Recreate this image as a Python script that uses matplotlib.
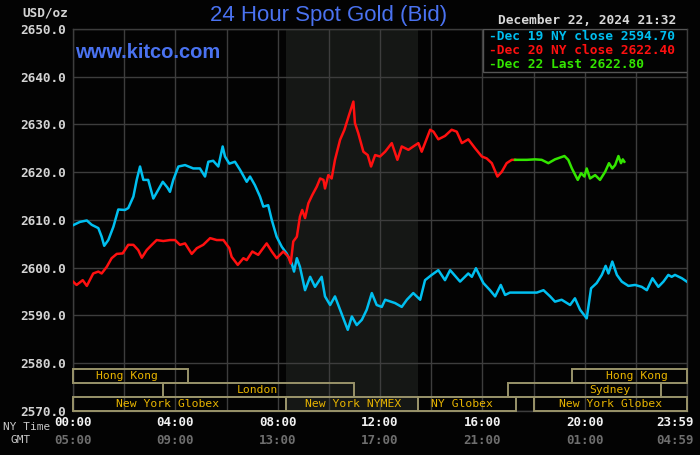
import matplotlib
matplotlib.use("Agg")
import matplotlib.pyplot as plt
from matplotlib.patches import Rectangle

# ---------------- data ----------------
dec19_hours = [0.0, 0.27, 0.54, 0.73, 0.99, 1.12, 1.22, 1.38, 1.58, 1.77, 2.03, 2.16, 2.36, 2.49, 2.62,
               2.75, 2.94, 3.14, 3.33, 3.51, 3.69, 3.79, 3.92, 4.12, 4.38, 4.70, 4.96, 5.16, 5.29, 5.48,
               5.68, 5.85, 5.94, 6.11, 6.33, 6.53, 6.79, 6.92, 7.11, 7.31, 7.44, 7.63, 7.77, 7.96, 8.16,
               8.35, 8.55, 8.64, 8.75, 8.87, 9.07, 9.27, 9.46, 9.72, 9.85, 10.05, 10.24, 10.44, 10.74,
               10.90, 11.09, 11.29, 11.48, 11.68, 11.87, 12.07, 12.20, 12.59, 12.85, 13.05, 13.30, 13.57,
               13.76, 14.02, 14.28, 14.54, 14.74, 15.13, 15.45, 15.59, 15.75, 16.04, 16.30, 16.50, 16.72,
               16.89, 17.08, 17.60, 18.13, 18.39, 18.65, 18.84, 19.10, 19.43, 19.62, 19.82, 20.08, 20.25,
               20.47, 20.67, 20.82, 20.93, 21.08, 21.26, 21.45, 21.71, 21.97, 22.23, 22.43, 22.65, 22.88,
               23.08, 23.27, 23.40, 23.53, 23.80, 23.99]
dec19_price = [2608.9, 2609.6, 2609.9, 2609.0, 2608.3, 2606.5, 2604.6, 2605.8, 2608.6, 2612.2, 2612.1,
               2612.5, 2614.9, 2618.4, 2621.2, 2618.4, 2618.4, 2614.5, 2616.3, 2618.0, 2616.8, 2615.9,
               2618.4, 2621.2, 2621.5, 2620.8, 2620.8, 2619.1, 2622.2, 2622.4, 2621.2, 2625.4, 2623.3,
               2621.8, 2622.2, 2620.5, 2618.0, 2619.1, 2617.3, 2614.9, 2612.8, 2613.1, 2610.0, 2606.5,
               2604.4, 2603.0, 2600.9, 2599.2, 2602.0, 2600.2, 2595.3, 2598.1, 2596.0, 2598.1, 2594.0,
               2592.2, 2594.0, 2591.2, 2587.0, 2589.8, 2588.0, 2589.1, 2591.2, 2594.7, 2592.2, 2591.8,
               2593.3, 2592.6, 2591.8, 2593.3, 2594.7, 2593.3, 2597.4, 2598.5, 2599.5, 2597.4, 2599.5,
               2597.1, 2598.8, 2598.1, 2599.9, 2596.8, 2595.3, 2594.0, 2596.4, 2594.3, 2594.8, 2594.8,
               2594.8, 2595.3, 2594.0, 2592.9, 2593.3, 2592.2, 2593.6, 2591.2, 2589.4, 2595.7, 2596.8,
               2598.5, 2600.4, 2598.8, 2601.3, 2598.5, 2597.1, 2596.2, 2596.4, 2596.0, 2595.3, 2597.8,
               2596.0, 2597.1, 2598.5, 2598.1, 2598.5, 2597.8, 2597.1]

dec20_hours = [0.0, 0.14, 0.38, 0.54, 0.79, 0.99, 1.12, 1.32, 1.51, 1.71, 1.94, 2.16, 2.36, 2.55, 2.69,
               2.88, 3.08, 3.27, 3.53, 3.79, 3.99, 4.18, 4.38, 4.64, 4.84, 5.09, 5.36, 5.62, 5.88, 6.11,
               6.20, 6.44, 6.66, 6.79, 7.01, 7.24, 7.57, 7.77, 7.96, 8.22, 8.42, 8.51, 8.61, 8.75, 8.87,
               8.96, 9.07, 9.20, 9.35, 9.53, 9.66, 9.79, 9.85, 9.98, 10.11, 10.24, 10.44, 10.61, 10.79,
               10.96, 11.02, 11.15, 11.35, 11.52, 11.65, 11.81, 12.00, 12.20, 12.46, 12.68, 12.85, 13.11,
               13.30, 13.50, 13.63, 13.96, 14.09, 14.28, 14.54, 14.80, 15.00, 15.20, 15.45, 15.72, 15.98,
               16.17, 16.37, 16.59, 16.76, 16.95, 17.15, 17.28]
dec20_price = [2597.1, 2596.4, 2597.4, 2596.2, 2598.8, 2599.2, 2598.8, 2600.2, 2602.0, 2602.9, 2603.0,
               2604.8, 2604.8, 2603.7, 2602.1, 2603.7, 2604.8, 2605.8, 2605.6, 2605.8, 2605.8, 2604.8,
               2605.1, 2602.9, 2604.1, 2604.8, 2606.2, 2605.8, 2605.8, 2604.1, 2602.3, 2600.6, 2602.0,
               2601.6, 2603.4, 2602.7, 2605.1, 2603.4, 2602.0, 2603.4, 2602.3, 2600.9, 2605.5, 2606.5,
               2610.7, 2612.1, 2610.4, 2613.5, 2615.2, 2617.0, 2618.7, 2618.4, 2616.6, 2619.4, 2618.7,
               2622.6, 2626.8, 2628.9, 2632.0, 2634.8, 2630.3, 2628.2, 2624.3, 2623.6, 2621.2, 2623.6,
               2623.3, 2624.3, 2626.1, 2622.6, 2625.4, 2624.7, 2625.4, 2626.1, 2624.3, 2628.9, 2628.5,
               2626.9, 2627.6, 2628.9, 2628.5, 2626.1, 2626.9, 2625.0, 2623.3, 2622.9, 2621.9, 2619.1,
               2620.1, 2621.9, 2622.6, 2622.6]

dec22_hours = [17.28, 17.74, 18.06, 18.32, 18.58, 18.84, 19.21, 19.36, 19.50, 19.73, 19.86, 19.99, 20.08,
               20.21, 20.41, 20.60, 20.80, 20.95, 21.08, 21.19, 21.32, 21.42, 21.49, 21.55]
dec22_price = [2622.6, 2622.6, 2622.7, 2622.6, 2621.9, 2622.7, 2623.4, 2622.6, 2620.8, 2618.4, 2619.8,
               2619.1, 2620.8, 2618.7, 2619.4, 2618.4, 2620.1, 2621.9, 2620.8, 2621.5, 2623.4, 2621.9,
               2622.7, 2622.2]

legend_labels = ["Dec 19 NY close 2594.70", "Dec 20 NY close 2622.40", "Dec 22 Last 2622.80"]

y_ticks = [2570, 2580, 2590, 2600, 2610, 2620, 2630, 2640, 2650]
ny_time_labels = ["00:00", "04:00", "08:00", "12:00", "16:00", "20:00", "23:59"]
gmt_labels = ["05:00", "09:00", "13:00", "17:00", "21:00", "01:00", "04:59"]
time_label_hours = [0, 4, 8, 12, 16, 20, 24]

# sessions: (label, start hour, end hour, row, label centre hour)
sessions = [
    ("Hong Kong", 0.0, 4.5, 2, 2.1),
    ("Hong Kong", 19.5, 24.0, 2, 22.05),
    ("London", 3.5, 11.0, 1, 7.2),
    ("Sydney", 17.0, 23.0, 1, 21.0),
    ("New York Globex", 0.0, 8.33, 0, 3.7),
    ("New York NYMEX", 8.33, 13.5, 0, 10.93),
    ("NY Globex", 13.5, 17.33, 0, 15.2),
    ("New York Globex", 18.0, 24.0, 0, 21.0),
]
nymex_start, nymex_end = 8.33, 13.5

# ---------------- style ----------------
BG = "#030303"
GRID = "#3d3d3d"
CYAN = "#00bff0"
RED = "#ff1010"
GREEN = "#33e600"
MONO = "DejaVu Sans Mono"

fig = plt.figure(figsize=(7.0, 4.55), dpi=100, facecolor=BG)
ax = fig.add_axes([73 / 700, 44 / 455, 614 / 700, 382 / 455])
ax.set_facecolor(BG)
ax.set_xlim(0, 24)
ax.set_ylim(2570, 2650)

ax.axvspan(nymex_start, nymex_end, color="#151715", zorder=0, lw=0)

ax.set_xticks(range(0, 25, 2))
ax.set_yticks(y_ticks)
ax.grid(True, color=GRID, lw=1.0, zorder=1)
ax.tick_params(axis="x", length=0, labelbottom=False)
ax.tick_params(axis="y", length=0, pad=5, labelcolor="#d4d4d4", labelsize=9.2)
ax.set_yticklabels([f"{v:.1f}" for v in y_ticks], family=MONO, fontweight="bold")
for s in ax.spines.values():
    s.set_color(GRID)
    s.set_linewidth(1.0)

ax.plot(dec19_hours, dec19_price, color=CYAN, lw=1.8, zorder=3)
ax.plot(dec20_hours, dec20_price, color=RED, lw=1.8, zorder=3)
ax.plot(dec22_hours, dec22_price, color=GREEN, lw=1.8, zorder=4)

# session boxes
row_edges = [2570.0, 2572.93, 2575.86, 2578.8]
for label, start, end, row, lc in sessions:
    y0, y1 = row_edges[row], row_edges[row + 1]
    ax.add_patch(Rectangle((start, y0), end - start, y1 - y0, fill=False,
                           edgecolor="#99936a", lw=1.4, zorder=5, clip_on=False))
    ax.text(lc, (y0 + y1) / 2, label, ha="center", va="center", color="#e8b400",
            family=MONO, fontsize=8.2, zorder=6)

# legend box
ax.add_patch(Rectangle((0.668, 0.887), 0.332, 0.113, transform=ax.transAxes,
                       facecolor=BG, edgecolor="#555555", lw=1.0, zorder=7))
for i, (lab, col) in enumerate(zip(legend_labels, [CYAN, RED, GREEN])):
    fig.text(489 / 700, 1 - (36 + 14 * i) / 455, "-" + lab, color=col, family=MONO,
             fontweight="bold", fontsize=9.3, ha="left", va="center", zorder=8)

# titles
fig.text(329 / 700, 1 - 15 / 455, "24 Hour Spot Gold (Bid)", color="#4a72f0",
         family="Liberation Sans", fontsize=16, ha="center", va="center")
fig.text(75 / 700, 1 - 53 / 455, "www.kitco.com", color="#4a72f0",
         family="Liberation Sans", fontweight="bold", fontsize=14.5, ha="left", va="center")
fig.text(68 / 700, 1 - 13 / 455, "USD/oz", color="#d4d4d4", family=MONO,
         fontweight="bold", fontsize=9.2, ha="right", va="center")
fig.text(676 / 700, 1 - 21 / 455, "December 22, 2024 21:32", color="#d8d8d8", family=MONO,
         fontweight="bold", fontsize=9.3, ha="right", va="center")

# time labels
fig.text(50 / 700, 1 - 427 / 455, "NY Time", color="#c8c8c8", family=MONO,
         fontsize=8, ha="right", va="center")
fig.text(31 / 700, 1 - 440 / 455, "GMT", color="#c8c8c8", family=MONO,
         fontsize=8, ha="right", va="center")
for h, ny, gmt in zip(time_label_hours, ny_time_labels, gmt_labels):
    xf = (73 + h * 614 / 24) / 700
    ha = "center"
    if h == 24:
        xf = 694 / 700
        ha = "right"
    fig.text(xf, 1 - 423 / 455, ny, color="#f2f2f2", family=MONO, fontweight="bold",
             fontsize=9, ha=ha, va="center")
    fig.text(xf, 1 - 440 / 455, gmt, color="#6e6e6e", family=MONO, fontweight="bold",
             fontsize=9, ha=ha, va="center")

fig.savefig("out.png", dpi=100, facecolor=BG)
